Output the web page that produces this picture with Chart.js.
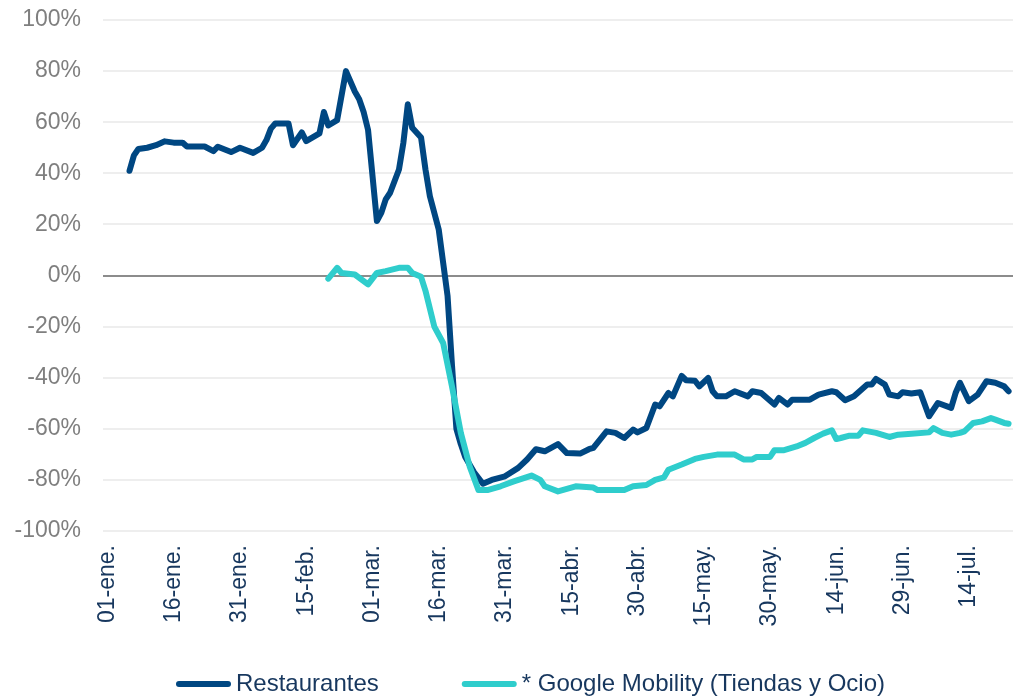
<!DOCTYPE html>
<html>
<head>
<meta charset="utf-8">
<script src="https://cdn.jsdelivr.net/npm/chart.js@4"></script>
<style>
  html, body { margin: 0; padding: 0; background: #fff; overflow: hidden; }
  #wrap { width: 1040px; height: 698px; }
</style>
</head>
<body>
<div id="wrap"><canvas id="chart" width="1040" height="698"></canvas></div>
<script>
// day index counted from 01-ene. (day 0)
const tickDays = [0, 15, 30, 45, 60, 75, 90, 105, 120, 135, 150, 165, 180, 195];
const tickLabels = ["01-ene.", "16-ene.", "31-ene.", "15-feb.", "01-mar.", "16-mar.", "31-mar.",
  "15-abr.", "30-abr.", "15-may.", "30-may.", "14-jun.", "29-jun.", "14-jul."];

const restDays = [5, 6, 7, 9, 11, 13, 15, 17, 18, 22, 24, 25, 28, 30, 33, 35, 36, 37, 38, 41,
  42, 44, 45, 48, 49, 50, 52, 54, 56, 57, 58, 59, 61, 62, 63, 64, 66, 67, 68, 69, 71, 72, 73,
  75, 76, 77, 78, 79, 80, 81, 83, 85, 87, 90, 93, 95, 97, 99, 102, 104, 107, 109, 110, 113,
  115, 117, 119, 120, 122, 124, 125, 127, 128, 130, 131, 133, 134, 136, 137, 138, 140, 142,
  145, 146, 148, 151, 152, 154, 155, 159, 161, 164, 165, 167, 169, 172, 173, 174, 176, 177,
  179, 180, 182, 184, 186, 188, 191, 192, 193, 195, 197, 199, 201, 203, 204];
const restValues = [41, 47, 49.5, 50, 51, 52.5, 52, 52, 50.5, 50.5, 48.7, 50.4, 48.3, 50, 48,
  50, 53, 57.5, 59.5, 59.5, 51, 56, 52.6, 55.6, 64, 58.7, 60.8, 80, 72, 69, 64, 57, 21.3, 24.5,
  29.8, 32.4, 41.5, 52, 67, 57.8, 54, 41.5, 31, 18, 5, -8, -35, -60, -66, -71, -77, -81.5, -80,
  -78.6, -75.3, -72, -68, -68.8, -66, -69.5, -69.7, -68, -67.5, -61, -61.6, -63.6, -60.3,
  -61.4, -59.7, -50.5, -51.2, -46, -47.3, -39.3, -41, -41.2, -43.4, -40.1, -45.3, -47.3,
  -47.3, -45.3, -47.3, -45.3, -46, -50.5, -47.9, -50.5, -48.6, -48.6, -46.6, -45.3, -45.7,
  -48.8, -47.3, -42.7, -42.7, -40.5, -42.7, -46.6, -47.3, -45.7, -46.2, -45.7, -55.1, -49.9,
  -51.8, -46, -42, -49.2, -46.6, -41.4, -42, -43.4, -45.3];

const mobDays = [50, 52, 53, 56, 59, 61, 63, 66, 68, 69, 71, 72, 74, 76, 78, 80, 82, 84, 86,
  89, 92, 96, 98, 99, 102, 106, 110, 111, 117, 119, 122, 124, 126, 127, 130, 133, 135, 138,
  142, 144, 146, 147, 150, 151, 153, 156, 158, 160, 162, 164, 165, 166, 168, 170, 171, 174,
  177, 179, 182, 186, 187, 189, 191, 193, 194, 196, 198, 200, 201, 203, 204];
const mobValues = [-1.2, 3, 1, 0.4, -3.5, 1, 1.7, 3, 3, 1, -0.5, -6, -20, -26.4, -43.4, -61.6,
  -74.7, -84, -84, -82.5, -80.6, -78.3, -80, -82.5, -84.5, -82.5, -83, -84, -84, -82.5, -82,
  -80, -79, -76, -74, -71.8, -71, -70.1, -70.1, -72, -72, -71, -71, -68.4, -68.4, -66.9, -65.5,
  -63.6, -61.9, -60.6, -64, -63.6, -62.7, -62.7, -60.6, -61.6, -63.2, -62.3, -61.9, -61.4,
  -59.7, -61.6, -62.3, -61.6, -61, -57.7, -57.1, -55.8, -56.4, -57.7, -58];

const seriesNames = ["Restaurantes", "* Google Mobility (Tiendas y Ocio)"];
const seriesColors = ["#004782", "#2fcdcc"];

const FONT = "'Liberation Sans', Arial, sans-serif";
const navy = "#17375e";

function toPoints(days, values) {
  return days.map((d, i) => ({ x: d, y: values[i] }));
}

// legend drawn at the bottom: line swatch + label, like the original
const bottomLegend = {
  id: "bottomLegend",
  afterDraw(chart) {
    const ctx = chart.ctx;
    const y = 684;
    const swatch = 55;
    let x = 176;
    ctx.save();
    ctx.font = "24px " + FONT;
    ctx.textBaseline = "middle";
    ctx.textAlign = "left";
    chart.data.datasets.forEach((ds) => {
      ctx.strokeStyle = ds.borderColor;
      ctx.lineWidth = 6;
      ctx.lineCap = "round";
      ctx.beginPath();
      ctx.moveTo(x + 3, y);
      ctx.lineTo(x + swatch - 3, y);
      ctx.stroke();
      ctx.fillStyle = navy;
      ctx.fillText(ds.label, x + swatch + 5, y);
      x += swatch + 5 + ctx.measureText(ds.label).width + 83;
    });
    ctx.restore();
  },
};

new Chart(document.getElementById("chart"), {
  type: "line",
  data: {
    datasets: [
      {
        label: seriesNames[0],
        data: toPoints(restDays, restValues),
        borderColor: seriesColors[0],
        borderWidth: 6,
        borderCapStyle: "round",
        borderJoinStyle: "round",
        pointRadius: 0,
        tension: 0,
        order: 1,
      },
      {
        label: seriesNames[1],
        data: toPoints(mobDays, mobValues),
        borderColor: seriesColors[1],
        borderWidth: 6,
        borderCapStyle: "round",
        borderJoinStyle: "round",
        pointRadius: 0,
        tension: 0,
        order: 0,
      },
    ],
  },
  plugins: [bottomLegend],
  options: {
    responsive: false,
    animation: false,
    devicePixelRatio: 1,
    layout: { padding: { left: 14, right: 27, top: 20, bottom: 67 } },
    plugins: {
      tooltip: { enabled: false },
      legend: { display: false },
    },
    scales: {
      x: {
        type: "linear",
        min: -1,
        max: 205,
        grid: { display: false, drawTicks: false },
        border: { display: false },
        afterBuildTicks: (scale) => {
          scale.ticks = tickDays.map((d) => ({ value: d }));
        },
        afterFit: (scale) => {
          scale.height = 100;
        },
        ticks: {
          autoSkip: false,
          maxRotation: 90,
          minRotation: 90,
          padding: 14,
          color: navy,
          font: { family: FONT, size: 23 },
          callback: (value) => tickLabels[tickDays.indexOf(value)],
        },
      },
      y: {
        min: -100,
        max: 100,
        afterFit: (scale) => {
          scale.width = 89;
          scale.paddingTop = 0;
          scale.paddingBottom = 0;
        },
        grid: {
          drawTicks: false,
          lineWidth: 2,
          color: (ctx) => (ctx.tick && ctx.tick.value === 0 ? "#8c8c8c" : "#eeeeee"),
        },
        border: { display: false },
        ticks: {
          stepSize: 20,
          padding: 22,
          color: "#7f7f7f",
          font: { family: FONT, size: 23 },
          callback: (value) => value + "%",
        },
      },
    },
  },
});
</script>
</body>
</html>
